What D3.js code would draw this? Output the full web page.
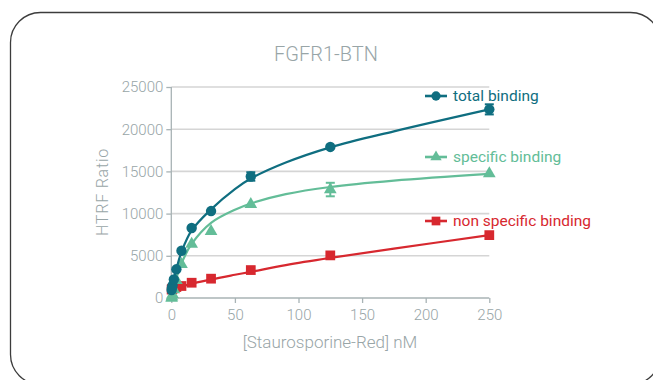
<!DOCTYPE html>
<html>
<head>
<meta charset="utf-8">
<script src="https://cdn.jsdelivr.net/npm/d3@7"></script>
<style>
  body { margin: 0; background: #fff; }
  text { font-family: Roboto, "Noto Sans", sans-serif; }
</style>
</head>
<body>
<svg id="chart" width="653" height="380"></svg>
<script>
// Measured points (nM of tracer vs HTRF ratio)
const concentrations = [0.25, 0.5, 1, 2, 4, 8, 16, 31.25, 62.5, 125, 250];
const totalBinding = [950, 1200, 1500, 2200, 3400, 5600, 8300, 10300, 14400, 17900, 22350];
const totalError = [0, 0, 0, 0, 0, 0, 0, 0, 500, 0, 600];
const specificBinding = [0, 150, 400, 1000, 2100, 4000, 6400, 7900, 11100, 12850, 14750];
const specificError = [0, 0, 0, 0, 0, 0, 0, 0, 0, 800, 0];
const nonSpecificBinding = [1000, 1050, 1100, 1200, 1300, 1420, 1810, 2290, 3310, 5050, 7450];
const nonSpecificError = [0, 0, 0, 0, 0, 0, 0, 0, 0, 0, 0];

// Fitted curves
const fitConcentrations = [0, 1, 2, 4, 8, 16, 31.25, 50, 62.5, 90, 125, 175, 250];
const totalFit = [900, 1550, 2250, 3450, 5450, 8000, 10500, 12900, 14150, 16050, 17850, 19750, 22350];
const specificFit = [0, 650, 1250, 2350, 4100, 6400, 8900, 10450, 11200, 12300, 13150, 13900, 14700];
const nonSpecificFit = [1050, 1080, 1120, 1200, 1380, 1680, 2200, 2750, 3100, 3900, 4750, 5850, 7450];

const xTicks = [0, 50, 100, 150, 200, 250];
const yTicks = [0, 5000, 10000, 15000, 20000, 25000];

const seriesNames = ["total binding", "specific binding", "non specific binding"];
const seriesColors = ["#0f6e80", "#63bd98", "#d7282f"];
const seriesShapes = [d3.symbolCircle, d3.symbolTriangle, d3.symbolSquare];

const svg = d3.select("#chart");

// Card outline
svg.append("rect")
  .attr("x", 10.5).attr("y", 12.5)
  .attr("width", 650).attr("height", 372)
  .attr("rx", 30).attr("ry", 30)
  .attr("fill", "none")
  .attr("stroke", "#3c3c3c")
  .attr("stroke-width", 1.3);

const x = d3.scaleLinear().domain([0, 250]).range([171.3, 489.3]);
const y = d3.scaleLinear().domain([0, 25000]).range([298, 87]);

const axisColor = "#a8b3b5";
const textColor = "#98a5a7";

// Title
svg.append("text")
  .attr("x", 326).attr("y", 61)
  .attr("text-anchor", "middle")
  .attr("fill", textColor)
  .attr("font-size", 20)
  .attr("font-weight", 300)
  .text("FGFR1-BTN");

// Horizontal gridlines
svg.append("g")
  .selectAll("line")
  .data(yTicks.slice(1))
  .join("line")
  .attr("x1", x(0)).attr("x2", x(250))
  .attr("y1", d => y(d)).attr("y2", d => y(d))
  .attr("stroke", "#d5d5d5")
  .attr("stroke-width", 1.6);

// Y axis
const yAxis = svg.append("g")
  .attr("transform", `translate(${x(0)},0)`)
  .call(d3.axisLeft(y).tickValues(yTicks).tickSize(5).tickPadding(3).tickFormat(d3.format("d")));
yAxis.select(".domain").attr("stroke", axisColor).attr("stroke-width", 1.3).attr("d", `M0,${y(25000)}V${y(0)}`);
yAxis.selectAll(".tick line").attr("stroke", axisColor).attr("stroke-width", 1.3);
yAxis.selectAll(".tick text").attr("fill", textColor).attr("font-size", 15)
  .attr("font-weight", 300).attr("font-family", "Roboto, sans-serif");

// X axis
const xAxis = svg.append("g")
  .attr("transform", `translate(0,${y(0)})`)
  .call(d3.axisBottom(x).tickValues(xTicks).tickSize(5).tickPadding(6));
xAxis.select(".domain").attr("stroke", axisColor).attr("stroke-width", 1.3).attr("d", `M${x(0)},0H${x(250)}`);
xAxis.selectAll(".tick line").attr("stroke", axisColor).attr("stroke-width", 1.3);
xAxis.selectAll(".tick text").attr("fill", textColor).attr("font-size", 15)
  .attr("font-weight", 300).attr("font-family", "Roboto, sans-serif");

// Axis titles
svg.append("text")
  .attr("x", 330).attr("y", 348)
  .attr("text-anchor", "middle")
  .attr("fill", textColor)
  .attr("font-size", 17)
  .attr("font-weight", 300)
  .text("[Staurosporine-Red] nM");

svg.append("text")
  .attr("transform", "translate(108,192) rotate(-90)")
  .attr("text-anchor", "middle")
  .attr("fill", textColor)
  .attr("font-size", 16)
  .attr("font-weight", 300)
  .attr("letter-spacing", 0.8)
  .text("HTRF Ratio");

const line = d3.line()
  .x(d => x(d[0]))
  .y(d => y(d[1]))
  .curve(d3.curveCatmullRom.alpha(0.5));

const series = [
  { name: seriesNames[0], color: seriesColors[0], shape: seriesShapes[0], values: totalBinding, errors: totalError, fit: totalFit, size: 85 },
  { name: seriesNames[1], color: seriesColors[1], shape: seriesShapes[1], values: specificBinding, errors: specificError, fit: specificFit, size: 70 },
  { name: seriesNames[2], color: seriesColors[2], shape: seriesShapes[2], values: nonSpecificBinding, errors: nonSpecificError, fit: nonSpecificFit, size: 95 }
];

// Draw order: non specific, specific, total on top
const drawOrder = [2, 1, 0];
drawOrder.forEach(i => {
  const s = series[i];
  const g = svg.append("g");

  g.append("path")
    .datum(fitConcentrations.map((c, k) => [c, s.fit[k]]))
    .attr("d", line)
    .attr("fill", "none")
    .attr("stroke", s.color)
    .attr("stroke-width", 2.2);

  const pts = concentrations.map((c, k) => ({ c, v: s.values[k], e: s.errors[k] }));

  // Error bars
  const eb = g.selectAll(".err").data(pts.filter(p => p.e > 0)).join("g");
  eb.append("line")
    .attr("x1", p => x(p.c)).attr("x2", p => x(p.c))
    .attr("y1", p => y(p.v + p.e)).attr("y2", p => y(p.v - p.e))
    .attr("stroke", s.color).attr("stroke-width", 2);
  [1, -1].forEach(sign => {
    eb.append("line")
      .attr("x1", p => x(p.c) - 4.5).attr("x2", p => x(p.c) + 4.5)
      .attr("y1", p => y(p.v + sign * p.e)).attr("y2", p => y(p.v + sign * p.e))
      .attr("stroke", s.color).attr("stroke-width", 2);
  });

  g.selectAll(".pt").data(pts).join("path")
    .attr("transform", p => `translate(${x(p.c)},${y(p.v)})`)
    .attr("d", d3.symbol().type(s.shape).size(s.size))
    .attr("fill", s.color);
});

// Legend
const legendRows = [
  { i: 0, y: 96 },
  { i: 1, y: 157 },
  { i: 2, y: 221 }
];
legendRows.forEach(r => {
  const s = series[r.i];
  const g = svg.append("g");
  g.append("line")
    .attr("x1", 425).attr("x2", 447)
    .attr("y1", r.y).attr("y2", r.y)
    .attr("stroke", s.color).attr("stroke-width", 2.6);
  g.append("path")
    .attr("transform", `translate(436,${r.y})`)
    .attr("d", d3.symbol().type(s.shape).size(s.size * 0.8))
    .attr("fill", s.color);
  g.append("text")
    .attr("x", 453).attr("y", r.y + 5)
    .attr("fill", s.color)
    .attr("font-size", 15.5)
    .text(s.name);
});
</script>
</body>
</html>
